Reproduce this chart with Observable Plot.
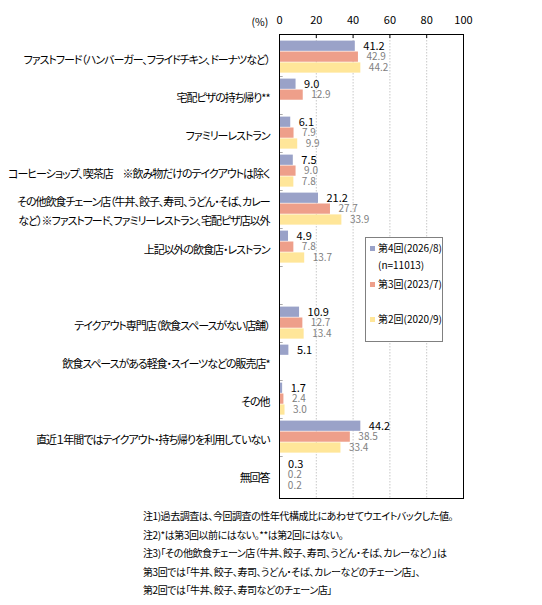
<!DOCTYPE html>
<html>
<head>
<meta charset="utf-8">
<script src="https://cdn.jsdelivr.net/npm/d3@7"></script>
<script src="https://cdn.jsdelivr.net/npm/@observablehq/plot@0.6"></script>
<style>
  body { margin: 0; background: #fff; font-family: "Noto Sans CJK JP", "Noto Sans", sans-serif; font-feature-settings: "palt"; }
  #wrap { position: relative; width: 542px; }
  svg text { font-feature-settings: "palt"; }
  #legend { position: absolute; left: 365px; top: 237px; width: 76px; height: 103px; border: 1px solid #808080; background: #fff; font-size: 10px; color: #000; }
  .li { position: absolute; left: 12px; white-space: nowrap; line-height: 14px; }
  .sw { position: absolute; left: -8px; top: 5px; width: 5px; height: 5px; }
  #notes { padding-left: 143px; margin-top: 5px; font-size: 10px; letter-spacing: -0.45px; line-height: 18.6px; color: #000; }
</style>
</head>
<body>
<div id="wrap">
  <div id="chart"></div>
  <div id="legend"></div>
</div>
<div id="notes"></div>
<script>
const categories = [
  "ファストフード（ハンバーガー、フライドチキン、ドーナツなど）",
  "宅配ピザの持ち帰り**",
  "ファミリーレストラン",
  "コーヒーショップ、喫茶店　※飲み物だけのテイクアウトは除く",
  "その他飲食チェーン店（牛丼、餃子、寿司、うどん・そば、カレー\nなど）※ファストフード、ファミリーレストラン、宅配ピザ店以外",
  "上記以外の飲食店・レストラン",
  "",
  "テイクアウト専門店（飲食スペースがない店舗）",
  "飲食スペースがある軽食・スイーツなどの販売店*",
  "その他",
  "直近１年間ではテイクアウト・持ち帰りを利用していない",
  "無回答"
];
const seriesNames = ["第4回(2026/8)", "第3回(2023/7)", "第2回(2020/9)"];
const wave4 = [41.2, 9.0, 6.1, 7.5, 21.2, 4.9, null, 10.9, 5.1, 1.7, 44.2, 0.3];
const wave3 = [42.9, 12.9, 7.9, 9.0, 27.7, 7.8, null, 12.7, null, 2.4, 38.5, 0.2];
const wave2 = [44.2, null, 9.9, 7.8, 33.9, 13.7, null, 13.4, null, 3.0, 33.4, 0.2];
const xTicks = [0, 20, 40, 60, 80, 100];
const notes = [
  "注1)過去調査は、今回調査の性年代構成比にあわせてウエイトバックした値。",
  "注2)*は第3回以前にはない。**は第2回にはない。",
  "注3)「その他飲食チェーン店（牛丼、餃子、寿司、うどん・そば、カレーなど）」は",
  "第3回では「牛丼、餃子、寿司、うどん・そば、カレーなどのチェーン店」、",
  "第2回では「牛丼、餃子、寿司などのチェーン店」"
];
const colors = ["#9AA2C8", "#EE9F8A", "#FFE699"];

const W = 542, H = 502, mT = 34, mB = 4, mL = 279, mR = 79;
const bw = (H - mT - mB) / categories.length;
const padTop = 2.6, barH = 10.9;

const seriesVals = [wave4, wave3, wave2];
const rows = seriesVals.map(vals =>
  categories.map((c, i) => ({cat: c, v: vals[i]})).filter(d => d.v != null)
);

const marks = [
  Plot.ruleX([20, 40, 60, 80], {stroke: "#c8c8c8", strokeDasharray: "1.5,1.5"}),
  Plot.ruleX(xTicks, {stroke: "#000", insetBottom: H - mT - mB - 4})
];
rows.forEach((data, j) => {
  marks.push(Plot.barX(data, {
    x: "v", y: "cat", fill: colors[j],
    insetTop: padTop + j * barH,
    insetBottom: bw - padTop - (j + 1) * barH
  }));
});
rows.forEach((data, j) => {
  marks.push(Plot.text(data, {
    x: "v", y: "cat", text: d => d.v.toFixed(1),
    dx: 8, dy: padTop + (j + 0.5) * barH - bw / 2,
    textAnchor: "start",
    fill: j === 0 ? "#000" : "#808080",
    fontSize: j === 0 ? 11 : 10
  }));
});
marks.push(
  Plot.barX(categories.slice(1), {y: d => d, x1: 0, x2: 2, fill: "#000", insetTop: 0, insetBottom: bw - 1}),
  Plot.text(categories, {y: d => d, text: d => d, frameAnchor: "left", dx: -10, textAnchor: "end", fontSize: 11, lineHeight: 1.75, fill: "#000"}),
  Plot.text(["(%)"], {frameAnchor: "top-left", dx: -28, dy: -16, fontSize: 10.5, fill: "#000"}),
  Plot.frame({stroke: "#000"})
);

const chart = Plot.plot({
  width: W, height: H,
  marginTop: mT, marginBottom: mB, marginLeft: mL, marginRight: mR,
  style: {fontFamily: "'Noto Sans CJK JP', 'Noto Sans', sans-serif", fontSize: "11px", color: "#000", background: "#fff"},
  x: {domain: [0, 100], axis: "top", ticks: xTicks, tickSize: 0, tickPadding: 11, label: null},
  y: {domain: categories, padding: 0, axis: null},
  marks
});
document.getElementById("chart").appendChild(chart);

// tighten the category labels to approximate the reference's narrow UI font
chart.querySelectorAll('g[aria-label="text"]').forEach(g => {
  if (Array.from(g.querySelectorAll("text")).some(t => t.textContent === "無回答")) {
    g.setAttribute("letter-spacing", "-1.05");
  }
});

const legend = document.getElementById("legend");
const legendItems = [
  {text: seriesNames[0], top: 3, color: colors[0]},
  {text: "(n=11013)", top: 20, color: null},
  {text: seriesNames[1], top: 39, color: colors[1]},
  {text: seriesNames[2], top: 74, color: colors[2]}
];
legendItems.forEach(it => {
  const d = document.createElement("div");
  d.className = "li";
  d.style.top = it.top + "px";
  d.textContent = it.text;
  if (it.color) {
    const s = document.createElement("span");
    s.className = "sw";
    s.style.background = it.color;
    d.appendChild(s);
  }
  legend.appendChild(d);
});
document.getElementById("notes").innerHTML = notes.map(n => `<div>${n}</div>`).join("");
</script>
</body>
</html>
